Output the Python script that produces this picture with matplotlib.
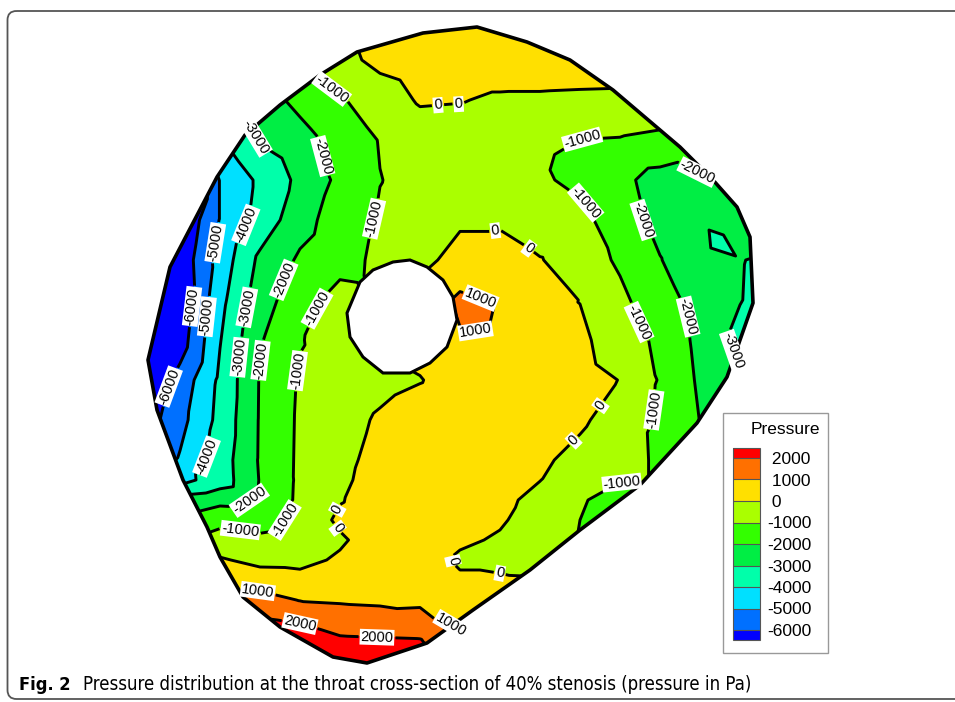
import matplotlib
matplotlib.use("Agg")
import matplotlib.pyplot as plt
import matplotlib.tri as mtri
import numpy as np
from matplotlib import font_manager as fm
from matplotlib.patches import Polygon, Rectangle, FancyBboxPatch

W, H = 955, 702

# contour levels and band colours (below -6000 ... above 2000)
LEVELS = [-6000, -5000, -4000, -3000, -2000, -1000, 0, 1000, 2000]
BAND_COLORS = ["#0000ff", "#0070ff", "#00e0ff", "#00ffaa", "#00ee44",
               "#33ff00", "#aaff00", "#ffe000", "#ff7000", "#ff0000"]

# vessel wall (pixel coords of the figure) and the lumen hole
OUTER_XY = [(280, 105), (320, 75), (357, 52), (423, 33), (477, 27), (527, 42), (570, 60),
            (613, 90), (660, 130), (680, 147), (713, 180), (737, 207), (750, 237), (753, 303),
            (740, 340), (727, 377), (697, 423), (640, 485), (580, 530), (530, 570), (473, 610),
            (427, 643), (367, 663), (333, 657), (280, 627), (243, 597), (220, 557), (207, 527),
            (183, 480), (157, 410), (148, 360), (170, 267), (217, 177), (245, 135)]
HOLE_XY = [(393, 262), (410, 260), (427, 267), (443, 280), (453, 297), (457, 320), (447, 347),
           (430, 363), (410, 373), (383, 373), (363, 357), (350, 337), (347, 313), (360, 282),
           (373, 270)]

# pressure samples (Pa) on a 40 px grid
GRID_X = [140, 180, 220, 260, 300, 340, 380, 420, 460, 500, 540, 580, 620, 660, 700, 740, 780]
GRID_Y = [20, 60, 100, 140, 180, 220, 260, 300, 340, 380, 420, 460, 500, 540, 580, 620, 660, 700]
GRID_P = [
    [-5000, -4000, -3000, -2000, -1000, -100, 400, 600, 700, 700, 650, 600, 400, 100, -300, -700, -1100],
    [-4800, -3800, -2800, -1800, -900, -300, 250, 500, 600, 600, 550, 500, 400, 50, -400, -800, -1200],
    [-5600, -4800, -3800, -2420, -1750, -1100, -500, 100, 50, -150, -150, -180, -200, -500, -900, -1300, -1600],
    [-6000, -5200, -4100, -2900, -2340, -1670, -950, -500, -400, -450, -600, -1010, -1060, -1170, -1500, -1700, -1900],
    [-7800, -7500, -4950, -3800, -2760, -1770, -1020, -750, -600, -650, -850, -1256, -1744, -2400, -2100, -1800, -1600],
    [-7500, -7000, -4950, -3640, -2370, -1516, -900, -700, -100, -100, -550, -680, -1590, -2300, -2800, -2400, -2200],
    [-7500, -6700, -4600, -2780, -1857, -1338, -800, -200, 250, 300, 50, -500, -1143, -1960, -2700, -2950, -3300],
    [-7500, -6800, -4300, -2460, -1386, -650, -1200, 300, 1200, 900, 450, -20, -784, -1617, -2344, -2970, -3400],
    [-7500, -6500, -4050, -2090, -1050, -600, -300, 400, 900, 700, 350, 180, -458, -1216, -2262, -3214, -3500],
    [-7200, -5650, -3810, -1940, -900, -650, -300, -50, 500, 650, 550, 300, -20, -1079, -2150, -2870, -3000],
    [-6670, -5330, -3700, -1920, -850, -390, 130, 500, 700, 700, 550, 150, -426, -1116, -2020, -2500, -2800],
    [-5800, -4900, -3520, -1900, -830, -250, 300, 650, 750, 600, 150, -270, -750, -1100, -1200, -1500, -1800],
    [-3000, -2600, -2300, -1900, -800, -60, 450, 650, 500, 250, -300, -950, -1200, -1100, -1200, -1500, -1800],
    [-1500, -900, -600, -800, -600, -150, 550, 650, 150, -100, -500, -1050, -1200, -1200, -1300, -1600, -1900],
    [1100, 800, 1050, 500, 350, 500, 700, 750, 150, 150, 100, -900, -1100, -1200, -1300, -1600, -1900],
    [2000, 2000, 1900, 2100, 1870, 1450, 1350, 1200, 700, 500, 300, -700, -1050, -1200, -1300, -1600, -1900],
    [3000, 3000, 3000, 3000, 3200, 2700, 2700, 2600, 1400, 1100, 700, -500, -1050, -1200, -1300, -1600, -1900],
    [3000, 3000, 3000, 3000, 3200, 3000, 3000, 2800, 1500, 1100, 700, -500, -1050, -1200, -1300, -1600, -1900],
]

# extra rows in the lower part where the bands are thin
EXTRA_X = [180, 220, 260, 300, 340, 380, 420, 460, 500, 540]
EXTRA_Y = [480, 520, 560, 600, 640]
EXTRA_P = [
    [-4300, -3550, -1950, -820, -190, 400, 650, 700, 450, 20],
    [-1800, -1300, -1400, -750, 200, 500, 650, 350, 100, -400],
    [-300, 100, -270, -300, 150, 600, 700, -150, -300, -500],
    [1600, 1500, 1400, 960, 900, 850, 880, 400, 300, 200],
    [2400, 2400, 2700, 2600, 2150, 2100, 2050, 1100, 800, 500],
]

# single spots (saddle by the lumen, orange patch, -3000 island, notch, blue tip)
SPOT_X = [360, 478, 718, 560, 205]
SPOT_Y = [280, 315, 240, 160, 195]
SPOT_P = [-1050, 1300, -3200, -1150, -6200]

# where the contour labels sit
LABEL_AT = [(333, 87), (439, 117), (458, 107), (243, 140), (330, 155), (582, 137), (697, 173),
            (243, 223), (370, 217), (582, 207), (495, 228), (530, 247), (640, 221), (217, 243),
            (197, 307), (210, 317), (245, 307), (280, 278), (320, 310), (237, 357), (258, 360),
            (293, 370), (170, 387), (643, 320), (683, 317), (733, 350), (480, 300), (477, 337),
            (608, 411), (573, 440), (655, 410), (210, 457), (621, 486), (250, 502), (240, 532),
            (293, 523), (338, 510), (342, 525), (451, 561), (500, 572), (258, 587), (457, 617),
            (300, 623), (377, 637)]

CAPTION_BOLD = "Fig. 2"
CAPTION = "Pressure distribution at the throat cross-section of 40% stenosis (pressure in Pa)"

plt.rcParams["font.family"] = ["Liberation Sans", "DejaVu Sans"]
plt.rcParams["contour.negative_linestyle"] = "solid"


def caption_font():
    """Pick a narrow sans for the caption if one is installed."""
    try:
        fm.findfont(fm.FontProperties(family="Liberation Sans Narrow"), fallback_to_default=False)
        return {"family": "Liberation Sans Narrow"}
    except ValueError:
        pass
    path = fm.findfont(fm.FontProperties(family="DejaVu Sans", stretch="condensed"))
    if "Condensed" in path:
        return {"family": "DejaVu Sans", "stretch": "condensed"}
    return {"family": "Liberation Sans"}


gx, gy = np.meshgrid(GRID_X, GRID_Y)
ex, ey = np.meshgrid(EXTRA_X, EXTRA_Y)
px = np.concatenate([gx.ravel(), ex.ravel(), SPOT_X]).astype(float)
py = np.concatenate([gy.ravel(), ey.ravel(), SPOT_Y]).astype(float)
pz = np.concatenate([np.ravel(GRID_P), np.ravel(EXTRA_P), SPOT_P]).astype(float)
tri = mtri.Triangulation(px, py)

fig = plt.figure(figsize=(W / 100, H / 100), dpi=100)
ax = fig.add_axes([0, 0, 1, 1])
ax.set_xlim(0, W)
ax.set_ylim(H, 0)
ax.axis("off")

wall = Polygon(OUTER_XY, closed=True, transform=ax.transData)
cf = ax.tricontourf(tri, pz, levels=LEVELS, colors=BAND_COLORS, extend="both", zorder=1)
cf.set_clip_path(wall)
cl = ax.tricontour(tri, pz, levels=LEVELS, colors="black", linewidths=2.1,
                   linestyles="solid", zorder=2)
cl.set_clip_path(wall)

ax.add_patch(Polygon(HOLE_XY, closed=True, fc="white", ec="black", lw=2.2, zorder=3))
ax.add_patch(Polygon(OUTER_XY, closed=True, fill=False, ec="black", lw=2.6, zorder=3,
                     joinstyle="round"))

labels = ax.clabel(cl, manual=LABEL_AT, fmt="%d", fontsize=10.5, inline=True, inline_spacing=2)
for t in labels:
    t.set_bbox(dict(facecolor="white", edgecolor="none", pad=0.6))
    t.set_zorder(5)

# page frame
ax.add_patch(FancyBboxPatch((7.5, 11), 1000, 688, boxstyle="round,pad=0,rounding_size=9",
                            fill=False, ec="#555555", lw=1.3, zorder=0))

# legend box
ax.add_patch(Rectangle((723, 413), 105, 240, fill=False, ec="#999999", lw=1.0, zorder=4))
ax.text(785, 430, "Pressure", ha="center", va="center", fontsize=12.5, zorder=5)
cax = fig.add_axes([733 / W, 1 - 640 / H, 27 / W, 192 / H])
cb = fig.colorbar(cf, cax=cax, drawedges=True, extendfrac=10 / 172, extendrect=True,
                  ticks=LEVELS)
cb.ax.set_yticklabels([("-" if v < 0 else " ") + str(abs(v)) if v != 0 else " 0" for v in LEVELS])
cb.ax.tick_params(length=0, pad=5, labelsize=12.5)
cb.outline.set_edgecolor("#555555")
cb.outline.set_linewidth(0.8)
cb.dividers.set_color("#555555")
cb.dividers.set_linewidth(0.8)

# caption, sized to the widths seen in the figure
cf_kw = caption_font()
fig_lbl = fig.text(19 / W, 1 - 685 / H, CAPTION_BOLD, fontsize=14, weight="bold",
                   va="center", ha="left", **cf_kw)
cap = fig.text(83 / W, 1 - 685 / H, CAPTION, fontsize=14, va="center", ha="left", **cf_kw)
fig.canvas.draw()
fig_lbl.set_fontsize(14 * 52 / fig_lbl.get_window_extent().width)
cap.set_fontsize(14 * 675 / cap.get_window_extent().width)

fig.savefig("out.png", dpi=100)
